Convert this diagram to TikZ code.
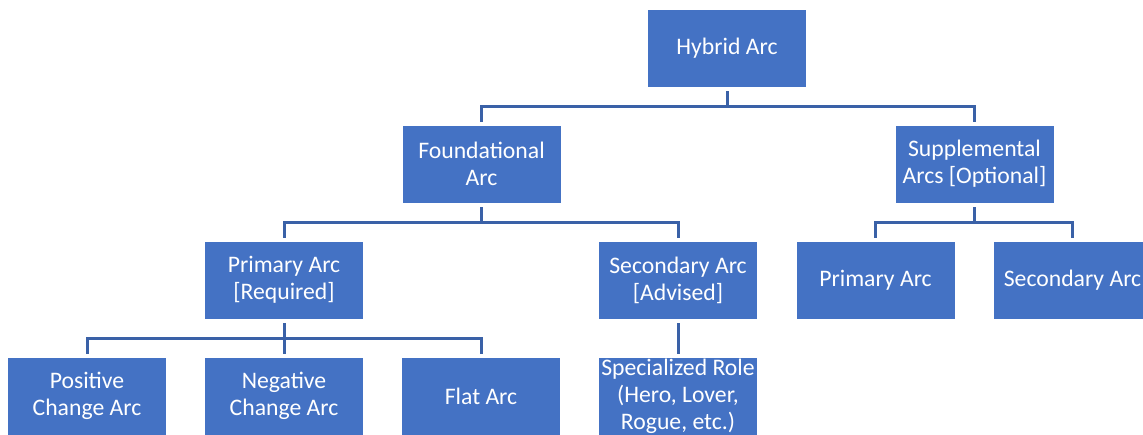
\documentclass[tikz,border=0pt]{standalone}
\usepackage{fontspec}
\setmainfont{Carlito}
\usetikzlibrary{calc}
\definecolor{boxblue}{HTML}{4472C4}
\definecolor{lineblue}{HTML}{3A61A7}
\begin{document}
\begin{tikzpicture}[x=0.5pt,y=-0.5pt,
  box/.style={fill=boxblue, draw=white, line width=0.4pt, minimum width=79.5pt, minimum height=39pt, inner sep=0pt, align=center, text=white, font=\fontsize{11.85pt}{13.5pt}\selectfont},
  conn/.style={draw=lineblue, line width=1.5pt}]
\clip (0,0) rectangle (1143,434);
% level 0
\node[box] (hyb) at (727,48) {Hybrid Arc};
% level 1
\node[box] (fnd) at (481.5,164) {Foundational\\Arc};
\node[box] (sup) at (974.5,164) {Supplemental\\Arcs [Optional]};
% level 2
\node[box] (pri) at (284,280) {Primary Arc\\{[}Required{]}};
\node[box] (sec) at (678,280) {Secondary Arc\\{[}Advised{]}};
\node[box] (spri) at (875.5,280) {Primary Arc};
\node[box] (ssec) at (1072.5,280) {Secondary Arc};
% level 3
\node[box] (pos) at (87,396) {Positive\\Change Arc};
\node[box] (neg) at (284,396) {Negative\\Change Arc};
\node[box] (flat) at (481,396) {Flat Arc};
\node[box] (spec) at (678,396) {Specialized Role\\(Hero, Lover,\\Rogue, etc.)};
% buses
\coordinate (b1) at ($(hyb.south)+(0,19)$);
\coordinate (b2) at ($(fnd.south)+(0,19)$);
\coordinate (b3) at ($(sup.south)+(0,19)$);
\coordinate (b4) at ($(pri.south)+(0,19)$);
% connectors
\draw[conn] ([yshift=-2pt]hyb.south) -- (b1);
\draw[conn] ([yshift=1.5pt]fnd.north) |- (b1) -| ([yshift=1.5pt]sup.north);
\draw[conn] ([yshift=-2pt]fnd.south) -- (b2);
\draw[conn] ([yshift=1.5pt]pri.north) |- (b2) -| ([yshift=1.5pt]sec.north);
\draw[conn] ([yshift=-2pt]sup.south) -- (b3);
\draw[conn] ([yshift=1.5pt]spri.north) |- (b3) -| ([yshift=1.5pt]ssec.north);
\draw[conn] ([yshift=-2pt]pri.south) -- (b4);
\draw[conn] ([yshift=1.5pt]pos.north) |- (b4) -| ([yshift=1.5pt]flat.north);
\draw[conn] (b4) -- ([yshift=1.5pt]neg.north);
\draw[conn] ([yshift=-2pt]sec.south) -- ([yshift=1.5pt]spec.north);
\end{tikzpicture}
\end{document}
